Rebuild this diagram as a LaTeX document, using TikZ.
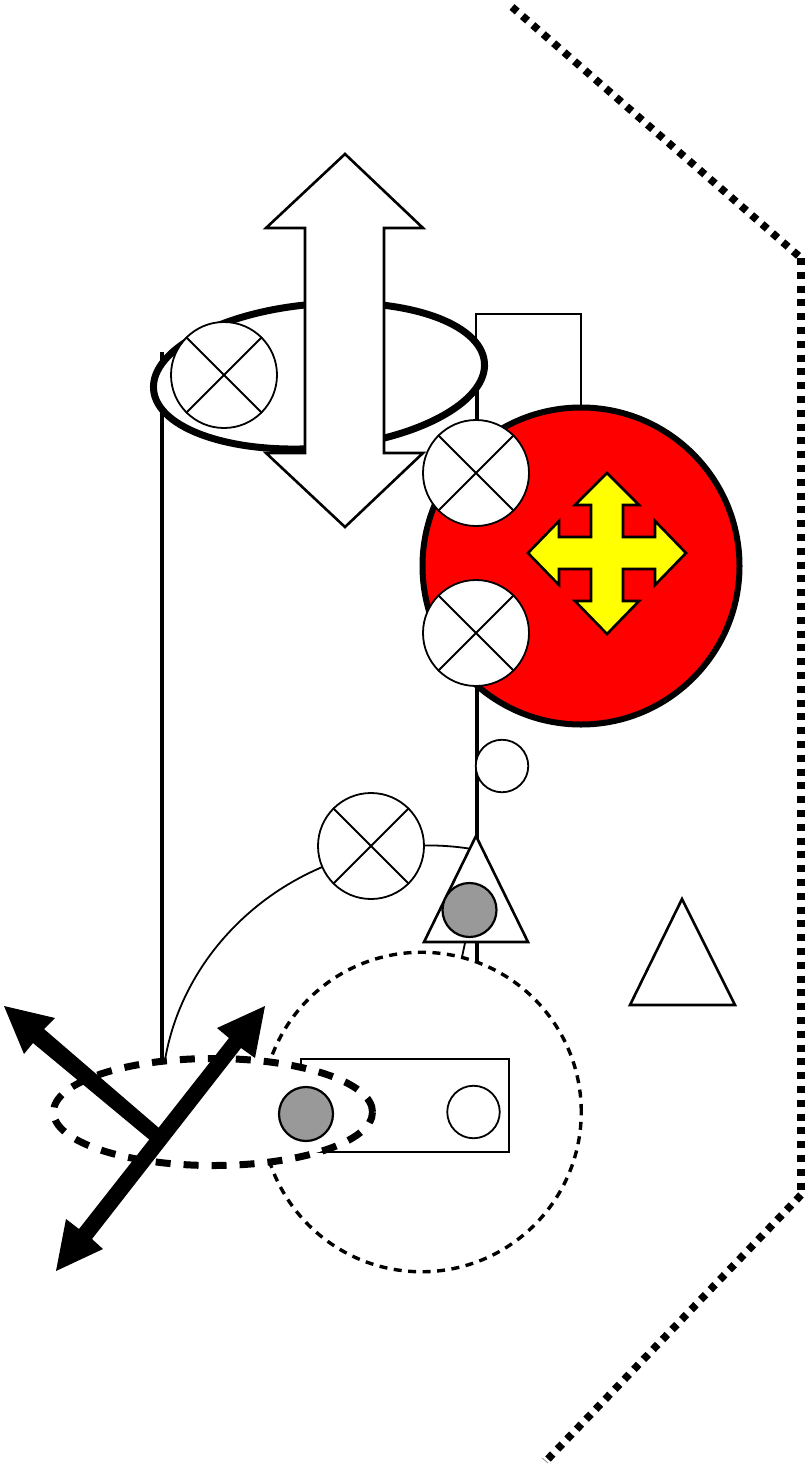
\documentclass[tikz,border=0pt]{standalone}
\usetikzlibrary{shapes.geometric}
\definecolor{graydot}{RGB}{153,153,153}
\definecolor{discred}{RGB}{255,0,0}
\definecolor{crossyellow}{RGB}{255,255,0}
\definecolor{hair}{RGB}{150,150,150}
\tikzset{
  xcircle/.style={circle,draw,line width=1.8pt,fill=white,minimum size=106pt,inner sep=0pt},
  plaincircle/.style={circle,draw,line width=1.8pt,fill=white,minimum size=52.5pt,inner sep=0pt},
  graycircle/.style={circle,draw,line width=2.2pt,fill=graydot,minimum size=54pt,inner sep=0pt},
  thinline/.style={line width=1.8pt},
  wire/.style={line width=3.8pt},
  crossline/.style={line width=1.8pt},
  shapeline/.style={line width=2.6pt,line join=miter},
  frameline/.style={line width=7.6pt,dash pattern=on 6.9pt off 6.9pt},
  fatarrow/.style={fill=black,draw=none},
}
\newcommand{\xcross}[1]{\draw[crossline] (#1.45) -- (#1.225) (#1.135) -- (#1.315);}
\begin{document}
\begin{tikzpicture}[x=1pt,y=-1pt]
\useasboundingbox (0,0) rectangle (807,1467);
% outer frame
\coordinate (f1) at (512,7);
\coordinate (f2) at (801,258);
\coordinate (f3) at (801,1195);
\coordinate (f4) at (547,1460);
\coordinate (f5) at (542,1458);
\coordinate (f6) at (548,1463);
\draw[frameline] (f1) -- (f2);
\draw[frameline] (f2) -- (f3);
\draw[frameline] (f3) -- (f4);
\draw[line width=.8pt,hair] (f5) -- (f6);
% wires
\coordinate (w1) at (162,352);
\coordinate (w2) at (162,1060);
\draw[wire] (w1) -- (w2);
\coordinate (w3) at (477,360);
\coordinate (w4) at (477,962);
\draw[wire] (w3) -- (w4);
\draw[thinline] (476,405) -- (476,314) -- (581,314) -- (581,408);
% upper ellipse
\node[ellipse,draw,line width=7pt,fill=white,rotate=4.7,minimum width=332pt,minimum height=144pt,inner sep=0pt] (ringtop) at (319,376) {};
% big double arrow
\draw[shapeline,fill=white] (345,154) -- (423,228) -- (384,228) -- (384,453) -- (423,453) -- (345,527) -- (266,453) -- (305,453) -- (305,228) -- (266,228) -- cycle;
% red disc
\node[circle,draw,line width=6pt,fill=discred,minimum size=317pt,inner sep=0pt] (disc) at (581,566) {};
% yellow cross
\draw[shapeline,fill=crossyellow] (607,473) -- (639,505) -- (623,505) -- (623,537) -- (655,537) -- (655,521) -- (686,553) -- (655,585) -- (655,569) -- (623,569) -- (623,601) -- (639,601) -- (607,634) -- (575,601) -- (591,601) -- (591,569) -- (559,569) -- (559,585) -- (528,553) -- (559,521) -- (559,537) -- (591,537) -- (591,505) -- (575,505) -- cycle;
% crossed circles
\node[xcircle] (xa) at (224,375) {}; \xcross{xa}
\node[xcircle] (xb) at (476,473) {}; \xcross{xb}
\node[xcircle] (xc) at (476,633) {}; \xcross{xc}
% small circle
\node[plaincircle] (small) at (502,766) {};
% curve
\coordinate (ca) at (165,1060);
\coordinate (cb) at (472,849);
\draw[thinline] (ca) .. controls (188,925) and (325,825) .. (cb);
\node[xcircle] (xd) at (371,846) {}; \xcross{xd}
% triangles
\draw[shapeline,fill=white] (476,836) -- (528,942) -- (424,942) -- cycle;
\draw[shapeline,fill=white] (682,899) -- (735,1005) -- (630,1005) -- cycle;
\node[graycircle] (gt) at (469.5,910) {};
\coordinate (ta) at (465,943);
\coordinate (tb) at (462,957);
\draw[thinline] (ta) -- (tb);
% dashed circle
\node[circle,draw,line width=3.4pt,dash pattern=on 8pt off 6.5pt,minimum size=319.5pt,inner sep=0pt] (dc) at (421.5,1112) {};
% rectangle
\draw[thinline,fill=white] (301,1059) rectangle (509,1152);
% lower ellipse
\node[ellipse,draw,line width=7pt,dash pattern=on 15pt off 13pt,fill=white,minimum width=319pt,minimum height=107pt,inner sep=0pt] (ringlow) at (213,1112) {};
\node[graycircle] (gl) at (306,1114) {};
\node[plaincircle] (wl) at (473.5,1112) {};
% fat arrows
\draw[fatarrow] (4,1006) -- (55,1018) -- (44,1029) -- (159,1128) -- (151,1141) -- (33,1043) -- (24,1054) -- cycle;
\draw[fatarrow] (265,1006) -- (255,1058) -- (241,1048) -- (92,1239) -- (103,1249) -- (56,1271) -- (66,1219) -- (79,1229) -- (229,1038) -- (217,1028) -- cycle;
\end{tikzpicture}
\end{document}
